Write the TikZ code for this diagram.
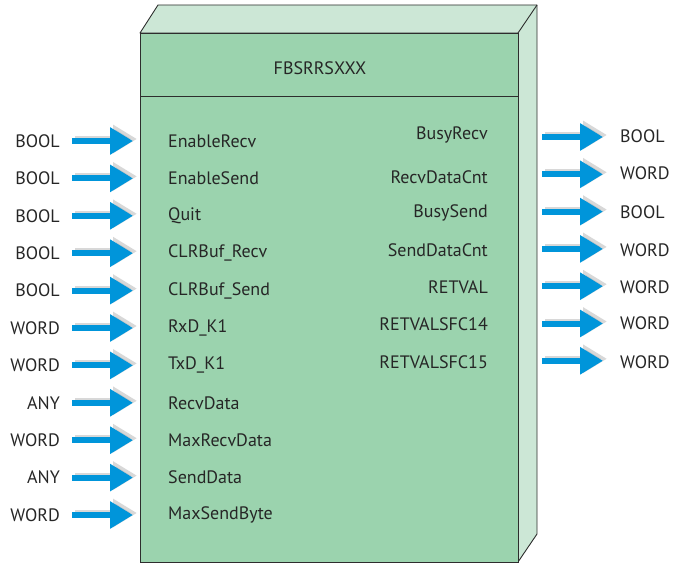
\documentclass[tikz,border=0pt]{standalone}
\usepackage{fontspec}
\setmainfont{PT Sans}
\usetikzlibrary{arrows.meta}
\definecolor{frontc}{RGB}{155,211,174}
\definecolor{sidec}{RGB}{204,231,214}
\definecolor{arrc}{RGB}{0,149,218}
\definecolor{edgec}{RGB}{45,45,45}
\tikzset{
  x=1pt,y=-1pt,
  lbl/.style={font=\fontsize{18}{20}\selectfont, text=black!85, inner sep=0pt},
  blockarrow/.style={line width=6pt, arrc, -{Triangle[width=26pt,length=23pt]}},
  arrshadow/.style={line width=6pt, black!30, opacity=0.5, -{Triangle[width=27pt,length=24pt]}},
}
\begin{document}
\begin{tikzpicture}
\useasboundingbox (0,0) rectangle (682,564);
% box
\fill[sidec,draw=edgec,line width=0.9pt,line join=round] (140,33) -- (158,5) -- (537,5) -- (537,534) -- (518,562) -- (518,33) -- cycle;
\draw[edgec,line width=0.9pt] (518,33) -- (537,5);
\fill[frontc,draw=edgec,line width=0.9pt] (140,33) rectangle (518,562);
\draw[edgec,line width=0.9pt] (140,96) -- (518,96);
\node[lbl] (title) at (320,68) {FBSRRSXXX};
% inputs
\foreach \i/\t/\p in {0/BOOL/EnableRecv,1/BOOL/EnableSend,2/BOOL/Quit,3/BOOL/CLRBuf\_Recv,4/BOOL/CLRBuf\_Send,5/WORD/RxD\_K1,6/WORD/TxD\_K1,7/ANY/RecvData,8/WORD/MaxRecvData,9/ANY/SendData,10/WORD/MaxSendByte}{
  \pgfmathsetmacro\yy{141+37.4*\i}
  \node[lbl,anchor=east] (it\i) at (60,\yy) {\t};
  \node[lbl,anchor=west] (ip\i) at (168,\yy) {\p};
  \coordinate (ia\i) at (72,\yy);
  \coordinate (ib\i) at (133,\yy);
  \draw[arrshadow] ([shift={(3,-2)}]ia\i) -- ([shift={(4,-2)}]ib\i);
  \draw[blockarrow] (ia\i) -- (ib\i);
}
% outputs
\foreach \i/\p/\pyy/\t/\tyy in {0/BusyRecv/135/BOOL/136,1/RecvDataCnt/177/WORD/173,2/BusySend/213/BOOL/212,3/SendDataCnt/250/WORD/250,4/RETVAL/287/WORD/287,5/RETVALSFC14/324/WORD/323,6/RETVALSFC15/362/WORD/362}{
  \pgfmathsetmacro\yy{137+37.3*\i}
  \node[lbl,anchor=east] (op\i) at (488,\pyy) {\p};
  \node[lbl,anchor=west] (ot\i) at (620,\tyy) {\t};
  \coordinate (oa\i) at (542,\yy);
  \coordinate (ob\i) at (603,\yy);
  \draw[arrshadow] ([shift={(3,-2)}]oa\i) -- ([shift={(4,-2)}]ob\i);
  \draw[blockarrow] (oa\i) -- (ob\i);
}
\end{tikzpicture}
\end{document}
